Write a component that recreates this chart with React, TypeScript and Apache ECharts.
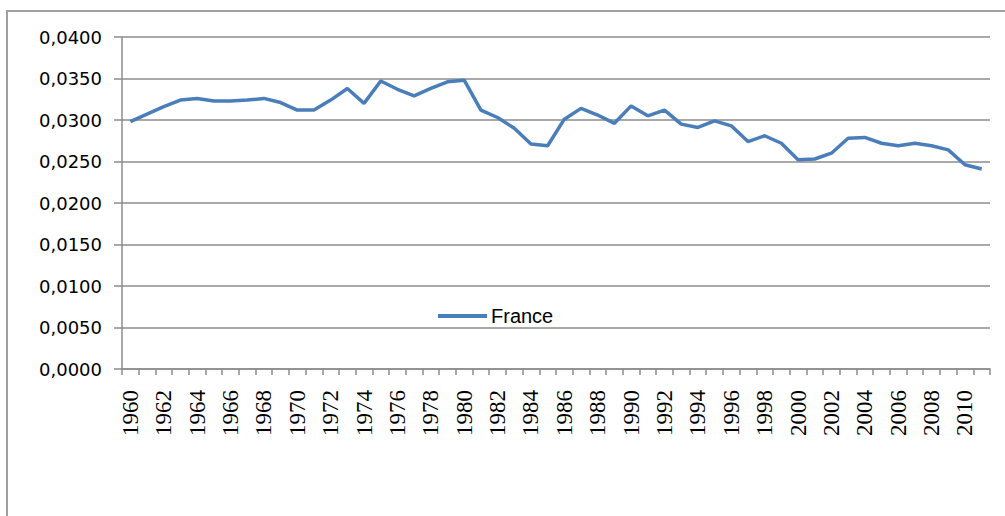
import React, { useEffect, useRef } from "react";
import * as echarts from "echarts";

const years: string[] = [];
for (let y = 1960; y <= 2011; y++) years.push(String(y));

const seriesName = "France";
const france: number[] = [
  0.0298, 0.0307, 0.0316, 0.0324, 0.0326, 0.0323, 0.0323, 0.0324, 0.0326, 0.0321,
  0.0312, 0.0312, 0.0324, 0.0338, 0.0320, 0.0347, 0.0337, 0.0329, 0.0338, 0.0346,
  0.0348, 0.0312, 0.0303, 0.0290, 0.0271, 0.0269, 0.0301, 0.0314, 0.0306, 0.0296,
  0.0317, 0.0305, 0.0312, 0.0295, 0.0291, 0.0299, 0.0293, 0.0274, 0.0281, 0.0272,
  0.0252, 0.0253, 0.0260, 0.0278, 0.0279, 0.0272, 0.0269, 0.0272, 0.0269, 0.0264,
  0.0246, 0.0241,
];

const yMin = 0;
const yMax = 0.04;
const yStep = 0.005;

export default function App() {
  const ref = useRef<HTMLDivElement>(null);
  useEffect(() => {
    if (!ref.current) return;
    const chart = echarts.init(ref.current, null, { renderer: "svg" });
    const grey = "#8c8c8c";
    chart.setOption({
      animation: false,
      backgroundColor: "#ffffff",
      graphic: [
        {
          type: "rect",
          shape: { x: 7, y: 11, width: 1020, height: 530 },
          style: { fill: "none", stroke: "#a0a0a0", lineWidth: 2 },
          silent: true,
        },
      ],
      grid: { left: 122, top: 37, right: 15, bottom: 147, containLabel: false, outerBoundsMode: "none" },
      legend: {
        show: true,
        data: [{ name: seriesName, icon: "rect" }],
        orient: "horizontal",
        left: 433,
        top: 301,
        itemWidth: 49,
        itemHeight: 4,
        itemGap: 4,
        textStyle: { fontFamily: "Liberation Sans", fontSize: 20, color: "#000", padding: [0, 0, 0, -1] },
      },
      xAxis: {
        type: "category",
        data: years,
        boundaryGap: true,
        axisLine: { lineStyle: { color: grey, width: 1.5 } },
        axisTick: { show: true, interval: 0, length: 6, lineStyle: { color: grey, width: 1.5 } },
        axisLabel: {
          show: true,
          interval: 1,
          rotate: 90,
          margin: 21,
          formatter: (v: string) => "{y|" + v + "}",
          rich: {
            y: { fontFamily: "Liberation Serif", fontSize: 23, color: "#000" },
          },
          fontFamily: "Liberation Serif",
          fontSize: 23,
          color: "#000",
          hideOverlap: false,
        },
        splitLine: { show: false },
      },
      yAxis: {
        type: "value",
        min: yMin,
        max: yMax,
        interval: yStep,
        axisLine: { show: true, lineStyle: { color: grey, width: 1.5 } },
        axisTick: { show: true, length: 8, lineStyle: { color: grey, width: 1.5 } },
        axisLabel: {
          margin: 20,
          color: "#000",
          fontFamily: "DejaVu Sans",
          fontSize: 18,
          formatter: (v: number) => v.toFixed(4).replace(".", ","),
        },
        splitLine: { show: true, lineStyle: { color: grey, width: 1.5 } },
      },
      series: [
        {
          name: seriesName,
          type: "line",
          data: france,
          showSymbol: false,
          symbol: "none",
          lineStyle: { color: "#4a7ebb", width: 3.5 },
          itemStyle: { color: "#4a7ebb" },
        },
      ],
    });
    return () => chart.dispose();
  }, []);
  return (
    <div
      ref={ref}
      style={{ position: "absolute", left: 0, top: 0, width: 1005, height: 516 }}
    />
  );
}
